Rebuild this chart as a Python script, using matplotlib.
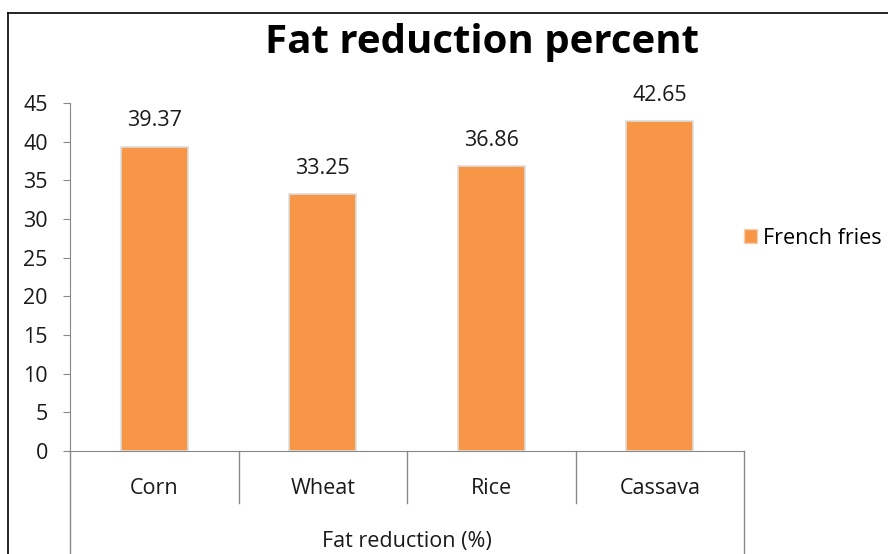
import matplotlib
matplotlib.use("Agg")
import matplotlib.pyplot as plt
from matplotlib.lines import Line2D
from matplotlib.patches import Patch

categories = ["Corn", "Wheat", "Rice", "Cassava"]
values = [39.37, 33.25, 36.86, 42.65]
value_labels = ["39.37", "33.25", "36.86", "42.65"]
yticks = [0, 5, 10, 15, 20, 25, 30, 35, 40, 45]
series_name = "French fries"
group_label = "Fat reduction (%)"
title = "Fat reduction percent"

plt.rcParams['font.family'] = ['Open Sans', 'DejaVu Sans']

W, H = 888, 554
fig = plt.figure(figsize=(W / 100, H / 100), dpi=100)

def fx(px):
    return px / W

def fy(py):
    return 1 - py / H

FS = 15.5
TXT = "#1a1a1a"
x0, x1, ytop, ybot = 70, 744, 103, 451
ax = fig.add_axes([fx(x0), fy(ybot), fx(x1) - fx(x0), fy(ytop) - fy(ybot)])

bar_color = "#F79646"
xs = list(range(len(categories)))
ax.bar(xs, values, width=0.40, color=bar_color, edgecolor="#DDDDDD", linewidth=1.2, zorder=3)
for x, v, lab in zip(xs, values, value_labels):
    ax.annotate(lab, (x, v), xytext=(0, 11), textcoords="offset points",
                ha="center", va="bottom", fontsize=FS, color=TXT)

ax.set_xlim(-0.5, len(categories) - 0.5)
ax.set_ylim(0, 45)
ax.set_yticks(yticks)
ax.set_yticklabels([str(t) for t in yticks], fontsize=FS, color=TXT)
ax.tick_params(axis="y", length=5, color="#888888", pad=11)
ax.set_xticks([])

for s in ["top", "right"]:
    ax.spines[s].set_visible(False)
ax.spines["left"].set_color("#888888")
ax.spines["bottom"].set_color("#888888")

# multi-level category axis
axis_color = "#888888"
sep_bottom = fy(503)
for px in [239, 407, 576]:
    fig.add_artist(Line2D([fx(px), fx(px)], [fy(ybot), sep_bottom], color=axis_color, lw=1))
for px in [x0, x1]:
    fig.add_artist(Line2D([fx(px), fx(px)], [fy(ybot), 0], color=axis_color, lw=1))
for x, c in zip(xs, categories):
    ax.text(x, -0.108, c, transform=ax.get_xaxis_transform(), ha="center", va="center",
            fontsize=FS, color=TXT)
fig.text((fx(x0) + fx(x1)) / 2, fy(541), group_label, ha="center", va="center",
         fontsize=FS, color=TXT)

# title
fig.text(fx(482), fy(42), title, ha="center", va="center", fontsize=29,
         fontweight="bold", color="#000000")

# legend
ax.legend(handles=[Patch(facecolor=bar_color, edgecolor="#F5D0B0", label=series_name)],
          loc="center left", bbox_to_anchor=(fx(744), fy(238)), bbox_transform=fig.transFigure,
          frameon=False, fontsize=FS, handlelength=0.6, handleheight=0.6, handletextpad=0.3,
          borderpad=0, borderaxespad=0)

# outer chart frame
fig.add_artist(Line2D([fx(8), fx(8)], [fy(13), 0], color="black", lw=1.2))
fig.add_artist(Line2D([fx(8), 1], [fy(13), fy(13)], color="black", lw=1.2))

fig.savefig("out.png", dpi=100)
